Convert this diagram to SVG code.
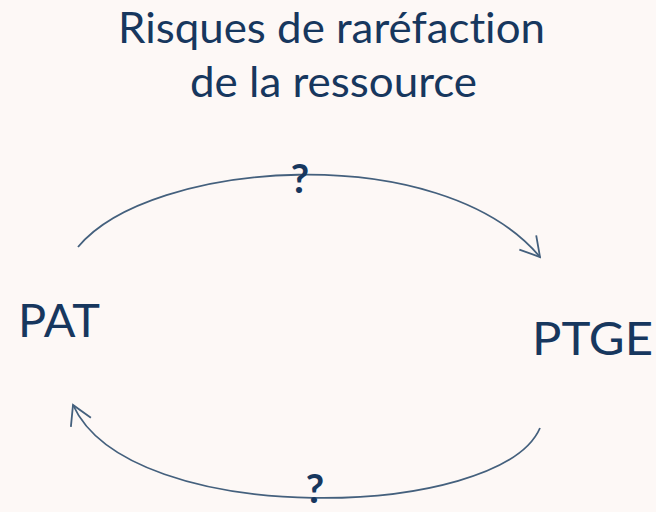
<svg xmlns="http://www.w3.org/2000/svg" width="656" height="512" viewBox="0 0 656 512">
<style>
.t{font-family:Lato,"Open Sans","Liberation Sans",sans-serif;fill:#17375E;font-variant-ligatures:none}
.c{fill:none;stroke:#44607D;stroke-width:1.8;marker-end:url(#ah)}
.q{font-family:Lato,"Open Sans","Liberation Sans",sans-serif;font-weight:bold;fill:#17375E;font-size:40px;text-anchor:middle}
</style>
<defs>
<marker id="ah" viewBox="-22 -13 24 26" refX="0" refY="0" markerWidth="24" markerHeight="26" markerUnits="userSpaceOnUse" orient="auto">
<path d="M-19,-11 L0,0 L-19,11" fill="none" stroke="#44607D" stroke-width="1.8"/>
</marker>
</defs>
<rect width="656" height="512" fill="#FDF8F6"/>
<g id="title">
<text class="t" x="118" y="43" font-size="42" textLength="427" lengthAdjust="spacingAndGlyphs">Risques de raréfaction</text>
<text class="t" x="190" y="97" font-size="42" textLength="287" lengthAdjust="spacingAndGlyphs">de la ressource</text>
</g>
<g id="PAT">
<text class="t" x="18" y="337" font-size="47" textLength="82" lengthAdjust="spacingAndGlyphs">PAT</text>
</g>
<g id="PTGE">
<text class="t" x="532" y="355" font-size="46" textLength="121" lengthAdjust="spacingAndGlyphs">PTGE</text>
</g>
<g id="connectors">
<path class="c" d="M78,247 C150,160 440,138 540,257"/>
<path class="c" d="M540,428 C500,520 130,530 73,405"/>
<text class="q" x="300" y="193">?</text>
<text class="q" x="315" y="503">?</text>
</g>
</svg>
